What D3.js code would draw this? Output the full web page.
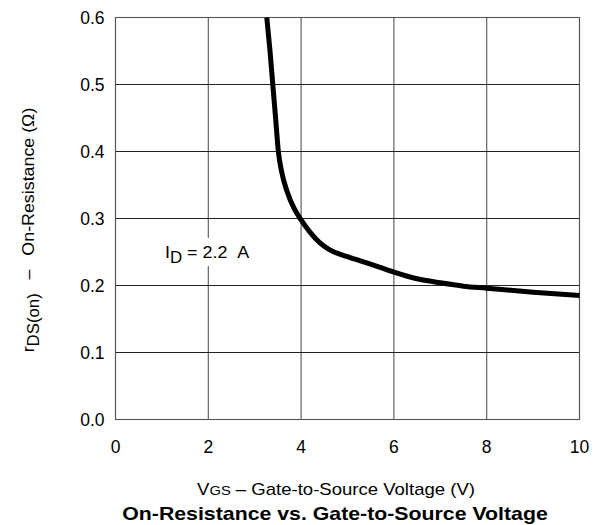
<!DOCTYPE html>
<html>
<head>
<meta charset="utf-8">
<script src="https://cdn.jsdelivr.net/npm/d3@7"></script>
<style>
  body { margin: 0; background: #fff; }
  text { font-family: "Liberation Sans", Arial, Helvetica, sans-serif; }
</style>
</head>
<body>
<div id="chart"></div>
<script>
// curve: Vgs (V) vs rDS(on) (ohm), Id = 2.2 A
var vgs = [3.26, 3.33, 3.39, 3.45, 3.51, 3.58, 3.70, 3.85, 4.00, 4.20, 4.40, 4.60, 5.00, 5.50, 6.00, 6.50, 7.00, 7.50, 8.00, 9.00, 10.0]
var rds = [0.600, 0.550, 0.500, 0.450, 0.400, 0.370, 0.340, 0.315, 0.298, 0.279, 0.264, 0.254, 0.243, 0.232, 0.220, 0.210, 0.204, 0.199, 0.196, 0.190, 0.185]

var xTicks = [0, 2, 4, 6, 8, 10]
var yTicks = [0.0, 0.1, 0.2, 0.3, 0.4, 0.5, 0.6]

var width = 600, height = 525
var margin = {top: 17.5, right: 20.5, bottom: 105.5, left: 115.5}

var svg = d3.select('#chart').append('svg')
    .attr('width', width)
    .attr('height', height)

var x = d3.scaleLinear().domain([0, 10]).range([margin.left, width - margin.right])
var y = d3.scaleLinear().domain([0, 0.6]).range([height - margin.bottom, margin.top])

// stretch a text sideways so it covers the same width as in the picture
function fitWidth(sel, cx, cy, target) {
    var w = sel.node().getBBox().width
    sel.attr('transform', 'translate(' + cx + ',' + cy + ') scale(' + (target / w) + ',1)')
}

// grid
svg.append('g').selectAll('line')
    .data(xTicks)
    .enter().append('line')
    .attr('x1', function(d) { return x(d) })
    .attr('x2', function(d) { return x(d) })
    .attr('y1', y(0))
    .attr('y2', y(0.6))
    .style('stroke', '#555')
    .style('stroke-width', 1.1)

svg.append('g').selectAll('line')
    .data(yTicks)
    .enter().append('line')
    .attr('x1', x(0))
    .attr('x2', x(10))
    .attr('y1', function(d) { return y(d) })
    .attr('y2', function(d) { return y(d) })
    .style('stroke', '#222')
    .style('stroke-width', 1.1)

svg.append('rect')
    .attr('x', x(0)).attr('y', y(0.6))
    .attr('width', x(10) - x(0)).attr('height', y(0) - y(0.6))
    .style('fill', 'none')
    .style('stroke', '#555')
    .style('stroke-width', 1.1)

// tick labels
svg.append('g').selectAll('text')
    .data(xTicks)
    .enter().append('text')
    .attr('x', function(d) { return x(d) })
    .attr('y', y(0) + 33)
    .attr('text-anchor', 'middle')
    .style('font-size', '17.5px')
    .text(function(d) { return d })

svg.append('g').selectAll('text')
    .data(yTicks)
    .enter().append('text')
    .attr('x', x(0) - 11)
    .attr('y', function(d) { return y(d) + 6 })
    .attr('text-anchor', 'end')
    .style('font-size', '17.5px')
    .text(function(d) { return d.toFixed(1) })

// Id label with white box behind it
svg.append('rect')
    .attr('x', 161).attr('y', 238).attr('width', 93).attr('height', 28)
    .style('fill', '#fff')
var labText = svg.append('text').style('font-size', '17px')
labText.append('tspan').text('I')
labText.append('tspan').attr('dy', 5).style('font-size', '16px').text('D')
labText.append('tspan').attr('dy', -5).text(' = 2.2\u00a0\u00a0A')
fitWidth(labText, 165, 258, 85)

// curve
var pts = vgs.map(function(v, i) { return [v, rds[i]] })
var line = d3.line()
    .x(function(d) { return x(d[0]) })
    .y(function(d) { return y(d[1]) })
    .curve(d3.curveMonotoneX)

svg.append('path')
    .datum(pts)
    .attr('d', line)
    .style('fill', 'none')
    .style('stroke', '#000')
    .style('stroke-width', 5)

// axis titles
var yg = svg.append('g')
var yt = yg.append('text')
    .attr('text-anchor', 'middle')
    .style('font-size', '17px')
yt.append('tspan').text('r')
yt.append('tspan').attr('dy', 5).style('font-size', '16px').text('DS(on)')
yt.append('tspan').attr('dy', -5).text('\u2002 \u2013 \u2002On-Resistance (\u03A9)')
var yw = yt.node().getBBox().width
yg.attr('transform', 'translate(34,230) rotate(-90) scale(' + (245 / yw) + ',1)')

var xt = svg.append('text')
    .attr('text-anchor', 'middle')
    .style('font-size', '17px')
xt.append('tspan').text('V')
xt.append('tspan').style('font-size', '13.5px').text('GS')
xt.append('tspan').text(' \u2013 Gate-to-Source Voltage (V)')
fitWidth(xt, 336, 495, 278)

var title = svg.append('text')
    .attr('text-anchor', 'middle')
    .style('font-size', '17.5px')
    .style('font-weight', 'bold')
    .text('On-Resistance vs. Gate-to-Source Voltage')
fitWidth(title, 335, 520, 426)
</script>
</body>
</html>
